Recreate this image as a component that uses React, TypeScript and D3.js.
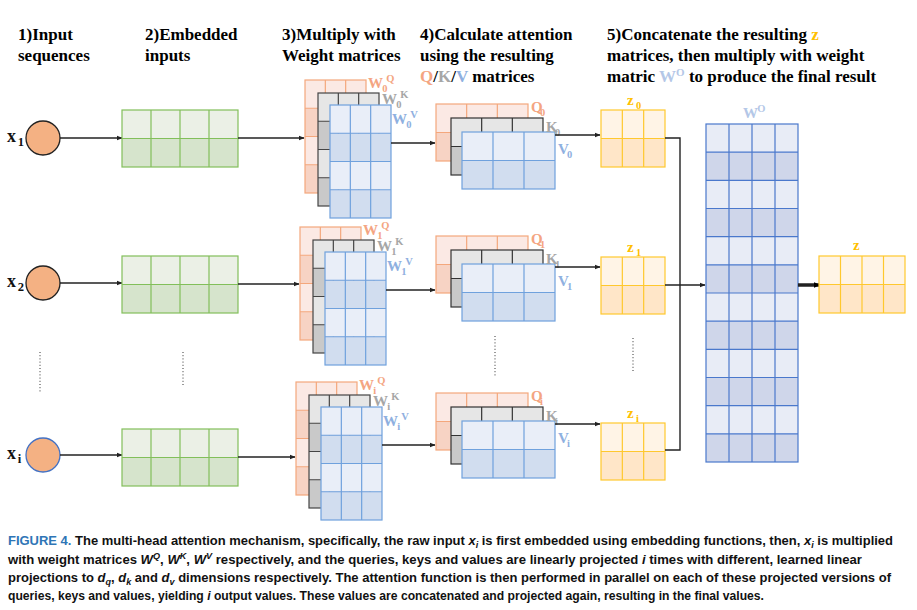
import React from 'react';
import * as d3 from 'd3';

const W = 917;
const H = 610;

// per head: subscript, circle centre, offsets of the stacks
const heads = ['1', '2', 'i'];
const headSub = ['0', '1', 'i'];
const circleY = [138, 283, 455];
const embedY = [110, 256, 429];
const wDx = [0, -5, -9];
const wDy = [0, 147, 302];
const qkvDy = [0, 132, 289];
const zY = [110, 257, 423];

const headings = [
  { x: 18, lines: ['1)Input', 'sequences'] },
  { x: 145, lines: ['2)Embedded', 'inputs'] },
  { x: 282, lines: ['3)Multiply with', 'Weight matrices'] },
];

const captionLines = [
  { end: 893 },
  { end: 862 },
  { end: 891 },
  { end: 764 },
];

const ORANGE = '#f4a582';
const GRAY = '#a6a6a6';
const BLUE = '#8fb0e0';
const GOLD = '#ffc000';

function Grid({ x, y, w, h, cols, rows, light, dark, stroke, sw = 1.2 }: any) {
  const xs = d3.range(cols + 1).map((i) => x + (w * i) / cols);
  const ys = d3.range(rows + 1).map((i) => y + (h * i) / rows);
  return (
    <g>
      {d3.range(rows).map((r) => (
        <rect key={r} x={x} y={ys[r]} width={w} height={h / rows} fill={r % 2 ? dark : light} />
      ))}
      {xs.slice(1, -1).map((v, i) => (
        <line key={'c' + i} x1={v} x2={v} y1={y} y2={y + h} stroke={stroke} strokeWidth={sw} />
      ))}
      {ys.slice(1, -1).map((v, i) => (
        <line key={'r' + i} x1={x} x2={x + w} y1={v} y2={v} stroke={stroke} strokeWidth={sw} />
      ))}
      <rect x={x} y={y} width={w} height={h} fill="none" stroke={stroke} strokeWidth={sw} />
    </g>
  );
}

function Lbl({ x, y, main, sub, sup, color, size = 15 }: any) {
  const wMain = main === 'W' ? size * 0.95 : size * 0.6;
  return (
    <text fill={color} fontFamily="Liberation Serif, serif" fontWeight="bold" fontSize={size}>
      <tspan x={x} y={y}>{main}</tspan>
      {sub && <tspan x={x + wMain} y={y + 4} fontSize={size * 0.7}>{sub}</tspan>}
      {sup && <tspan x={x + wMain + (sub ? 4 : 0)} y={y - 6} fontSize={size * 0.7}>{sup}</tspan>}
    </text>
  );
}

function Arrow({ x1, y1, x2, y2, w = 1.5, m = 'url(#ah)' }: any) {
  return <line x1={x1} y1={y1} x2={x2} y2={y2} stroke="#222" strokeWidth={w} markerEnd={m} />;
}

export default function App() {
  const serif = 'Liberation Serif, serif';
  return (
    <svg width={W} height={H} style={{ position: 'absolute', left: 0, top: 0, background: '#fff' }}>
      <defs>
        <marker id="ah" viewBox="0 0 10 10" refX="9" refY="5" markerWidth="6" markerHeight="6" orient="auto" markerUnits="userSpaceOnUse">
          <path d="M0,1 L10,5 L0,9 z" fill="#222" />
        </marker>
        <marker id="ah2" viewBox="0 0 10 10" refX="9" refY="5" markerWidth="7" markerHeight="7" orient="auto" markerUnits="userSpaceOnUse">
          <path d="M0,1 L10,5 L0,9 z" fill="#000" />
        </marker>
      </defs>

      {/* headings */}
      {headings.map((hd) =>
        hd.lines.map((l, i) => (
          <text key={hd.x + l} x={hd.x} y={40 + i * 21} fontFamily={serif} fontWeight="bold" fontSize={17}>{l}</text>
        ))
      )}
      <g fontFamily={serif} fontWeight="bold" fontSize={17}>
        <text x={420} y={40}>4)Calculate attention</text>
        <text x={420} y={61}>using the resulting</text>
        <text x={420} y={82}>
          <tspan fill={ORANGE}>Q</tspan>/<tspan fill={GRAY}>K</tspan>/<tspan fill={BLUE}>V</tspan> matrices
        </text>
        <text x={607} y={40}>5)Concatenate the resulting <tspan fill={GOLD}>z</tspan></text>
        <text x={607} y={61}>matrices, then multiply with weight</text>
        <text x={607} y={82}>
          matric <tspan fill="#b4c7e7">W</tspan><tspan fill="#b4c7e7" fontSize={11} dy={-6}>O</tspan>
          <tspan dy={6}> to produce the final result</tspan>
        </text>
      </g>

      {heads.map((hname, k) => {
        const cy = circleY[k];
        const ey = embedY[k];
        const wx = 305 + wDx[k];
        const wy = 80 + wDy[k];
        const qy = 104 + qkvDy[k];
        const zy = zY[k];
        const s = headSub[k];
        return (
          <g key={hname}>
            <Lbl x={7} y={cy + 4} main="x" sub={hname} color="#111" size={18} />
            <circle cx={43} cy={cy} r={17} fill="#f4b183" stroke={k === 2 ? '#4472c4' : '#222'} strokeWidth={1.3} />
            <Arrow x1={60} y1={cy} x2={122} y2={cy} />
            <Grid x={122} y={ey} w={116} h={57} cols={4} rows={2} light="#ebf0e6" dark="#d6e4cc" stroke="#82bf5a" />
            <Arrow x1={238} y1={ey + 28} x2={wx - 1} y2={ey + 28} />
            {/* W stack */}
            <Grid x={wx} y={wy} w={61} h={113} cols={3} rows={4} light="#fbe9e4" dark="#f7d3c4" stroke="#f4a77c" />
            <Grid x={wx + 13} y={wy + 13} w={61} h={113} cols={3} rows={4} light="#e6e6e6" dark="#c9c9c9" stroke="#444" />
            <Grid x={wx + 25} y={wy + 25} w={61} h={113} cols={3} rows={4} light="#e9eef8" dark="#d1ddef" stroke="#6fa1dd" />
            <Lbl x={wx + 63} y={wy + 8} main="W" sub={s} sup="Q" color={ORANGE} />
            <Lbl x={wx + 77} y={wy + 24} main="W" sub={s} sup="K" color={GRAY} />
            <Lbl x={wx + 87} y={wy + 44} main="W" sub={s} sup="V" color={BLUE} />
            <Arrow x1={wx + 86} y1={wy + 63} x2={435} y2={wy + 63} />
            {/* QKV stack */}
            <Grid x={436} y={qy} w={92} h={57} cols={3} rows={2} light="#fbe9e4" dark="#f7d3c4" stroke="#f4a77c" />
            <Grid x={451} y={qy + 14} w={92} h={57} cols={3} rows={2} light="#e6e6e6" dark="#c9c9c9" stroke="#333" />
            <Grid x={462} y={qy + 28} w={93} h={57} cols={3} rows={2} light="#e9eef8" dark="#d1ddef" stroke="#6fa1dd" />
            <Lbl x={531} y={qy + 8} main="Q" sub={s} color={ORANGE} />
            <Lbl x={546} y={qy + 28} main="K" sub={s} color={GRAY} />
            <Lbl x={558} y={qy + 50} main="V" sub={s} color={BLUE} />
            <Arrow x1={555} y1={qy + 31} x2={600} y2={qy + 31} />
            {/* z */}
            <Lbl x={627} y={zy - 5} main="z" sub={s} color={GOLD} />
            <Grid x={601} y={zy} w={64} h={57} cols={3} rows={2} light="#fff4e6" dark="#ffe6c8" stroke="#ffc82e" />
          </g>
        );
      })}

      {/* concatenation lines */}
      <path d={`M665,138 H680 V450 H665`} fill="none" stroke="#222" strokeWidth={1.4} />
      <Arrow x1={665} y1={285} x2={705} y2={285} />

      {/* W^O */}
      <Lbl x={743} y={118} main="W" sup="O" color="#b4c7e7" />
      <Grid x={706} y={124} w={92} h={338} cols={4} rows={12} light="#e8ecf6" dark="#cfd6ea" stroke="#4a78cc" />
      <Arrow x1={798} y1={285} x2={820} y2={285} w={3.5} m="url(#ah2)" />
      <Lbl x={853} y={250} main="z" color={GOLD} />
      <Grid x={819} y={256} w={86} h={57} cols={4} rows={2} light="#fff4e6" dark="#ffe6c8" stroke="#ffc82e" />

      {/* ellipsis dots */}
      {[[40, 352, 392], [183, 352, 385], [495, 336, 376], [633, 338, 372]].map(([x, a, b]) => (
        <line key={x} x1={x} x2={x} y1={a} y2={b} stroke="#333" strokeWidth={1} strokeDasharray="1,2.2" />
      ))}

      {/* caption */}
      <g fontFamily="Liberation Sans Narrow, Liberation Sans, sans-serif" fontWeight="bold" fontSize={13} fill="#111">
        <text x={8} y={545} textLength={captionLines[0].end - 8} lengthAdjust="spacingAndGlyphs">
          <tspan fill="#2e75b6">FIGURE 4.</tspan> The multi-head attention mechanism, specifically, the raw input <tspan fontStyle="italic">x</tspan><tspan fontStyle="italic" fontSize={9} dy={3}>i</tspan><tspan dy={-3}> is first embedded using embedding functions, then, </tspan><tspan fontStyle="italic">x</tspan><tspan fontStyle="italic" fontSize={9} dy={3}>i</tspan><tspan dy={-3}> is multiplied</tspan>
        </text>
        <text x={8} y={564} textLength={captionLines[1].end - 8} lengthAdjust="spacingAndGlyphs">
          with weight matrices <tspan fontStyle="italic">W</tspan><tspan fontStyle="italic" fontSize={9} dy={-5}>Q</tspan><tspan dy={5}>, </tspan><tspan fontStyle="italic">W</tspan><tspan fontStyle="italic" fontSize={9} dy={-5}>K</tspan><tspan dy={5}>, </tspan><tspan fontStyle="italic">W</tspan><tspan fontStyle="italic" fontSize={9} dy={-5}>V</tspan><tspan dy={5}> respectively, and the queries, keys and values are linearly projected </tspan><tspan fontStyle="italic">i</tspan> times with different, learned linear
        </text>
        <text x={8} y={582} textLength={captionLines[2].end - 8} lengthAdjust="spacingAndGlyphs">
          projections to <tspan fontStyle="italic">d</tspan><tspan fontStyle="italic" fontSize={9} dy={3}>q</tspan><tspan dy={-3}>, </tspan><tspan fontStyle="italic">d</tspan><tspan fontStyle="italic" fontSize={9} dy={3}>k</tspan><tspan dy={-3}> and </tspan><tspan fontStyle="italic">d</tspan><tspan fontStyle="italic" fontSize={9} dy={3}>v</tspan><tspan dy={-3}> dimensions respectively. The attention function is then performed in parallel on each of these projected versions of</tspan>
        </text>
        <text x={8} y={600} textLength={captionLines[3].end - 8} lengthAdjust="spacingAndGlyphs">
          queries, keys and values, yielding <tspan fontStyle="italic">i</tspan> output values. These values are concatenated and projected again, resulting in the final values.
        </text>
      </g>
    </svg>
  );
}
